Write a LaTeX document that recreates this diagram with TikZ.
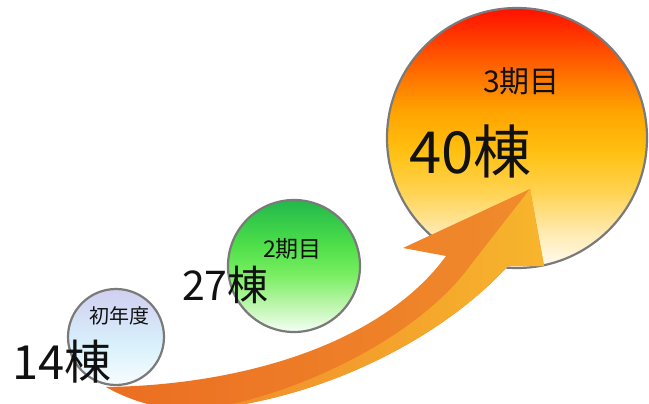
\documentclass[tikz,border=0pt]{standalone}
\usepackage{fontspec}
\setmainfont{Noto Sans CJK JP}
\definecolor{rimgray}{HTML}{7A7A7A}
\definecolor{txt}{HTML}{111111}
\definecolor{ra}{HTML}{FFFCF5}
\definecolor{rb}{HTML}{FFE8A8}
\definecolor{rc}{HTML}{FFD24D}
\definecolor{rd}{HTML}{FFC010}
\definecolor{re}{HTML}{FFA400}
\definecolor{rf}{HTML}{FF7A00}
\definecolor{rg}{HTML}{FF3C00}
\definecolor{rh}{HTML}{FF1000}
\definecolor{ga}{HTML}{F5FFF5}
\definecolor{gb}{HTML}{C6F7B8}
\definecolor{gc}{HTML}{7AEE62}
\definecolor{gd}{HTML}{4FE04A}
\definecolor{ge}{HTML}{22B84A}
\definecolor{ba}{HTML}{F8FCFF}
\definecolor{bb}{HTML}{D9F2FC}
\definecolor{bc}{HTML}{D0CFF0}
\definecolor{arrDark}{HTML}{EB6E22}
\definecolor{arrMid}{HTML}{F08C2C}
\definecolor{arrLight}{HTML}{F7B52C}
\pgfdeclareverticalshading{redball}{100bp}{color(0bp)=(ra); color(25bp)=(ra); color(32.5bp)=(rb); color(40bp)=(rc); color(47.5bp)=(rd); color(55bp)=(re); color(61bp)=(rf); color(69bp)=(rg); color(75bp)=(rh); color(100bp)=(rh)}
\pgfdeclareverticalshading{greenball}{100bp}{color(0bp)=(ga); color(25bp)=(ga); color(33.5bp)=(gb); color(46.5bp)=(gc); color(57.5bp)=(gd); color(75bp)=(ge); color(100bp)=(ge)}
\pgfdeclareverticalshading{blueball}{100bp}{color(0bp)=(ba); color(25bp)=(ba); color(45bp)=(bb); color(75bp)=(bc); color(100bp)=(bc)}
\tikzset{
  ball/.style={circle, draw=rimgray, line width=2.2pt, inner sep=0pt},
  bigtxt/.style={anchor=base west, inner sep=0pt, text=txt},
  smalltxt/.style={anchor=base west, inner sep=0pt, text=txt},
}
\begin{document}
\begin{tikzpicture}[x=1pt,y=-1pt]
\useasboundingbox (0,0) rectangle (649,404);
\clip (0,0) rectangle (649,404);
% circles
\node[ball, shading=blueball, minimum size=96pt] (c1) at (116,337) {};
\node[ball, shading=greenball, minimum size=132pt] (c2) at (294,266) {};
\node[ball, shading=redball, minimum size=260pt] (c3) at (517,138) {};
% arrow
\path[left color=arrDark, right color=arrMid]
  (106,387) .. controls (250,385) and (385,340) .. (446,256)
  -- (403,248) -- (530,189) -- (544,266) -- (508,266)
  .. controls (440,340) and (320,400) .. (200,410)
  .. controls (160,412) and (125,398) .. cycle;
\path[left color=arrMid, right color=arrLight]
  (530,189) -- (544,266) -- (508,266)
  .. controls (440,340) and (320,400) .. (200,410)
  .. controls (300,396) and (420,335) .. (470,266) -- cycle;
% texts
\node[smalltxt, font=\fontsize{20}{24}\selectfont] (t1) at (89,323) {初年度};
\node[bigtxt, font=\fontsize{47}{52}\selectfont] (n1) at (12,379) {14棟};
\node[smalltxt, font=\fontsize{23}{27}\selectfont] (t2) at (263,257) {2期目};
\node[bigtxt, font=\fontsize{41}{46}\selectfont] (n2) at (182,300) {27棟};
\node[smalltxt, font=\fontsize{30}{34}\selectfont] (t3) at (483,93) {3期目};
\node[bigtxt, font=\fontsize{58}{64}\selectfont] (n3) at (409,173) {40棟};
\end{tikzpicture}
\end{document}
